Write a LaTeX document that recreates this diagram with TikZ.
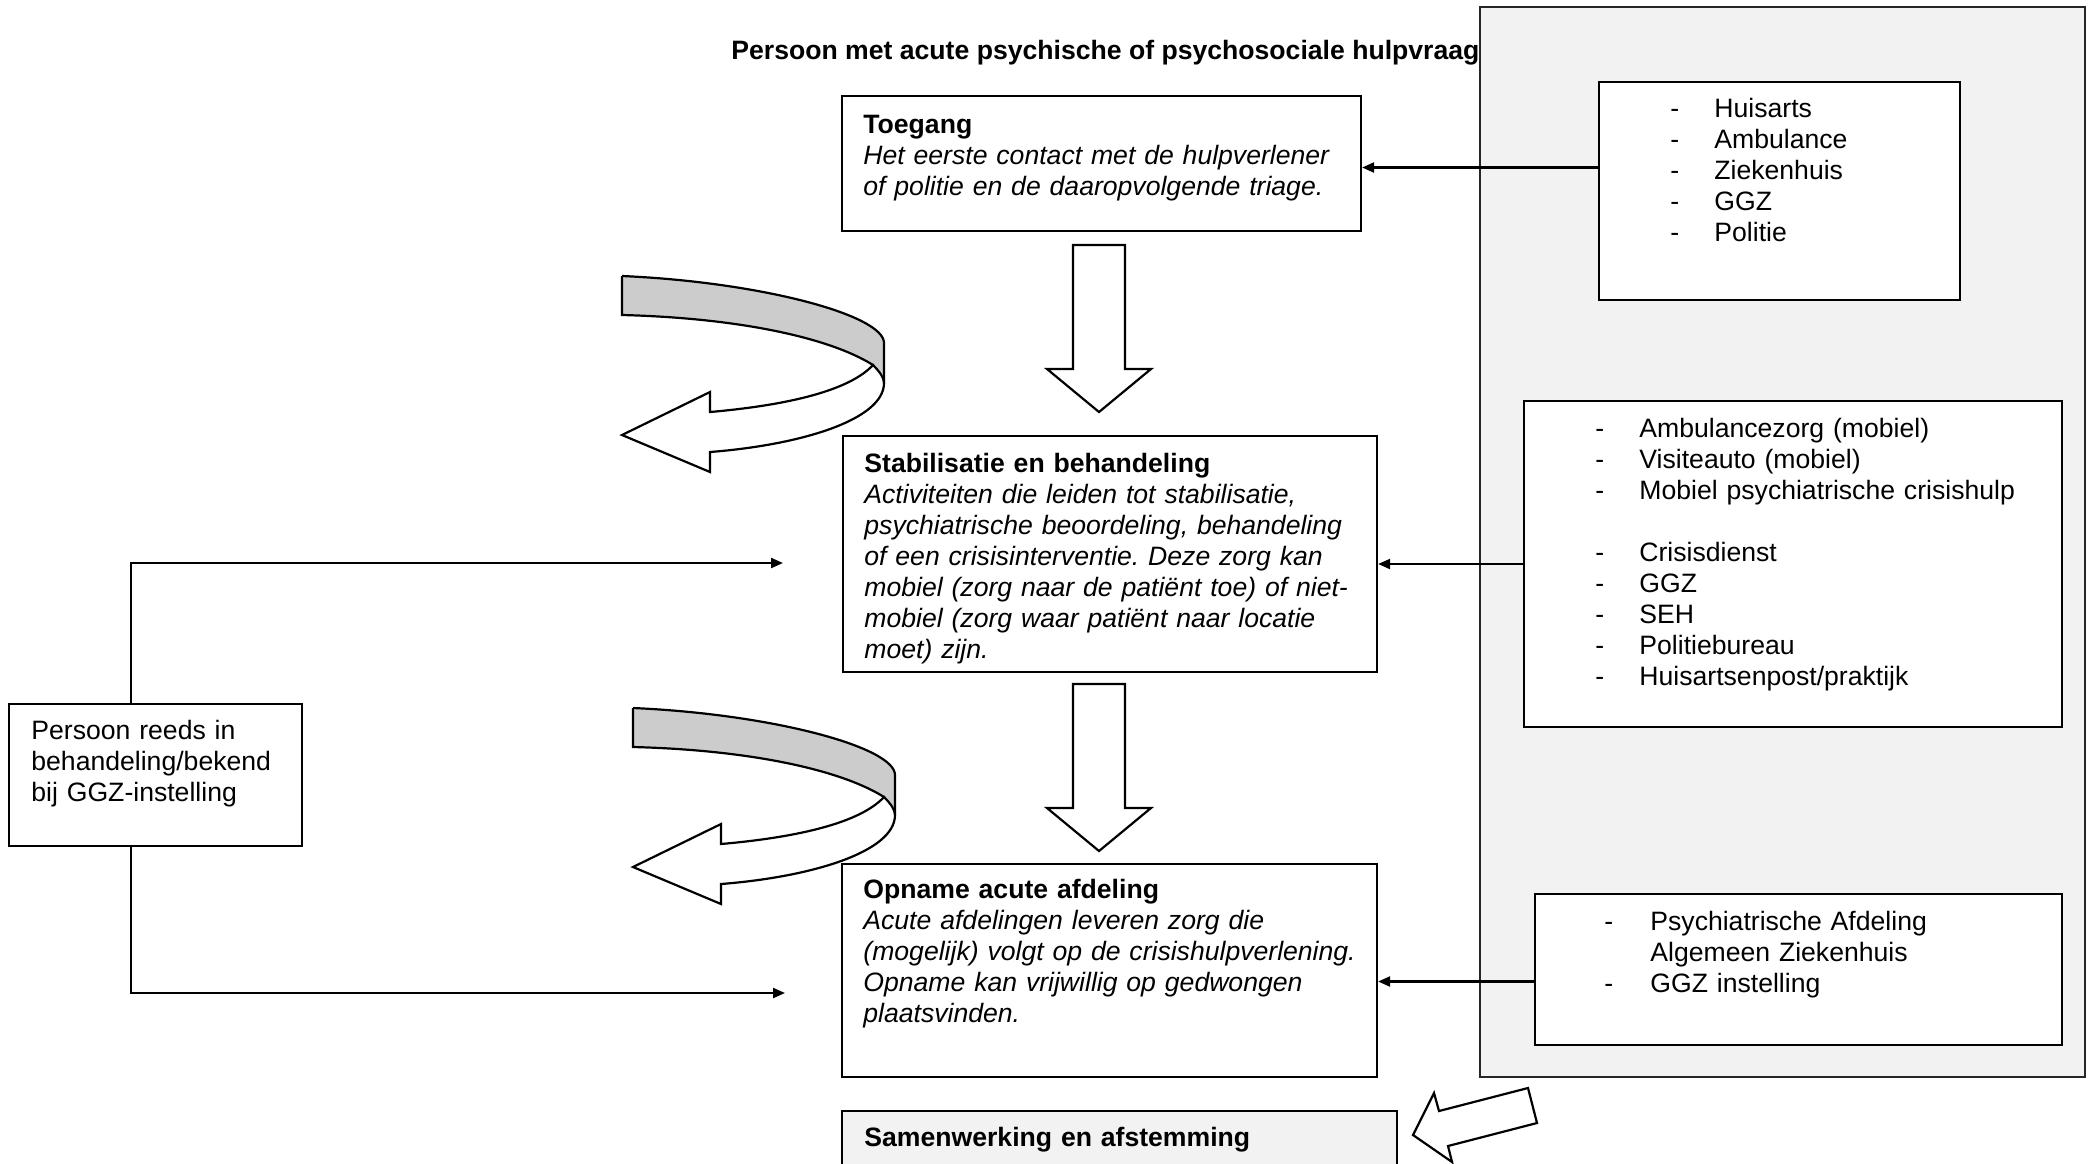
\documentclass[tikz,border=0pt]{standalone}
\usepackage{fontspec}
\setmainfont{Liberation Sans}
\usetikzlibrary{arrows.meta,fit}
\definecolor{panelgrey}{HTML}{F2F2F2}
\definecolor{bandgrey}{HTML}{CCCCCC}
\frenchspacing
\newcommand\dfont{\fontsize{13.3pt}{15.5pt}\selectfont}
\newcommand\dsh{\makebox[22pt][l]{-}}
\newcommand\curvarrow{%
  \path[fill=bandgrey] (622,276) .. controls (760,282) and (884,315) .. (884,343)
     -- (884,383) .. controls (884,378) and (880,372) .. (873,365)
     .. controls (830,338) and (740,318) .. (622,315) -- cycle;
  \path[shapeline, fill=white] (884,383) .. controls (884,420) and (800,445) .. (710,452)
     -- (710,472) -- (622,435) -- (710,392) -- (710,412)
     .. controls (790,405) and (850,390) .. (873,365)
     .. controls (880,372) and (884,378) .. (884,383) -- cycle;
  \draw[shapeline] (622,276) .. controls (760,282) and (884,315) .. (884,343) -- (884,383);
  \draw[shapeline] (873,365) .. controls (830,338) and (740,318) .. (622,315) -- (622,276);
}
\begin{document}
\begin{tikzpicture}[x=0.5pt,y=-0.5pt,
  box/.style={draw, line width=1.1pt, fill=white, inner sep=0pt},
  panelbox/.style={draw=black!85, line width=1.1pt, fill=panelgrey, inner sep=0pt},
  txt/.style={anchor=base west, inner sep=0pt, text width=300pt, align=left, font=\dfont},
  conn/.style={line width=1.1pt, -{Triangle[length=6pt,width=5pt]}},
  shapeline/.style={draw, line width=1.1pt, line join=miter},
  blockarrow/.style={draw, fill=white, line width=1.1pt, line join=miter}]
\useasboundingbox (0,0) rectangle (2098,1163);
\clip (0,0) rectangle (2098,1163);

% title
\node[anchor=base west, inner sep=0pt, font=\dfont\bfseries] (title) at (731,59)
  {Persoon met acute psychische of psychosociale hulpvraag};

% right panel and its boxes
\node[panelbox, fit={(1480,7) (2085,1077)}] (panel) {};
\node[box, fit={(1599,82) (1960,300)}] (box1) {};
\node[box, fit={(1524,401) (2062,727)}] (box2) {};
\node[box, fit={(1535,894) (2062,1045)}] (box3) {};

% main boxes
\node[box, fit={(842,96) (1361,231)}] (toegang) {};
\node[box, fit={(843,436) (1377,672)}] (stab) {};
\node[box, fit={(842,864) (1377,1077)}] (opname) {};
\node[box, fill=panelgrey, fit={(842,1111) (1397,1200)}] (samen) {};
\node[box, fit={(9,704) (302,846)}] (left) {};

% texts
\node[txt] (toegangtxt) at (863,133) {\textbf{Toegang}\\
  \itshape Het eerste contact met de hulpverlener\\
  of politie en de daaropvolgende triage.};
\node[txt] (stabtxt) at (864,472) {\textbf{Stabilisatie en behandeling}\\
  \itshape Activiteiten die leiden tot stabilisatie,\\
  psychiatrische beoordeling, behandeling\\
  of een crisisinterventie. Deze zorg kan\\
  mobiel (zorg naar de patiënt toe) of niet-\\
  mobiel (zorg waar patiënt naar locatie\\
  moet) zijn.};
\node[txt] (opnametxt) at (863,898) {\textbf{Opname acute afdeling}\\
  \itshape Acute afdelingen leveren zorg die\\
  (mogelijk) volgt op de crisishulpverlening.\\
  Opname kan vrijwillig op gedwongen\\
  plaatsvinden.};
\node[txt] (samentxt) at (864,1146) {\textbf{Samenwerking en afstemming}};
\node[txt, text width=140pt] (lefttxt) at (31,739) {Persoon reeds in\\
  behandeling/bekend\\ bij GGZ-instelling};
\node[txt, text width=160pt] (box1txt) at (1670,117) {\dsh Huisarts\\
  \dsh Ambulance\\ \dsh Ziekenhuis\\ \dsh GGZ\\ \dsh Politie};
\node[txt, text width=250pt] (box2txt) at (1595,437) {\dsh Ambulancezorg (mobiel)\\
  \dsh Visiteauto (mobiel)\\ \dsh Mobiel psychiatrische crisishulp\\ \mbox{}\\
  \dsh Crisisdienst\\ \dsh GGZ\\ \dsh SEH\\ \dsh Politiebureau\\
  \dsh Huisartsenpost/praktijk};
\node[txt, text width=200pt] (box3txt) at (1604,930) {\makebox[23pt][l]{-}Psychiatrische Afdeling\\
  \makebox[23pt][l]{}Algemeen Ziekenhuis\\ \makebox[23pt][l]{-}GGZ instelling};

% connectors
\draw[conn] ([yshift=-2pt]box1.west |- toegang.east) -- ([yshift=-2pt]toegang.east);
\draw[conn] (box2.west) -- (box2.west -| stab.east);
\draw[conn] ([yshift=-6pt]box3.west) -- ([yshift=-6pt]box3.west -| opname.east);
\coordinate (t1) at (131,563);
\coordinate (e1) at (783,563);
\draw[conn] (left.north -| t1) -- (t1) -- (e1);
\coordinate (b1) at (131,993);
\coordinate (e2) at (785,993);
\draw[conn] (left.south -| b1) -- (b1) -- (e2);

% down block arrows
\path[blockarrow] (1073,245) -- (1125,245) -- (1125,369) -- (1151,369) -- (1099,412)
  -- (1047,369) -- (1073,369) -- cycle;
\path[blockarrow] (1073,684) -- (1125,684) -- (1125,808) -- (1151,808) -- (1099,851)
  -- (1047,808) -- (1073,808) -- cycle;

% curved arrows
\begin{scope}\curvarrow\end{scope}
\begin{scope}[shift={(11,432)}]\curvarrow\end{scope}

% arrow to Samenwerking
\path[blockarrow] (1528,1088) -- (1537,1123) -- (1448,1146) -- (1452,1162) -- (1413,1135)
  -- (1434,1093) -- (1439,1111) -- cycle;
\end{tikzpicture}
\end{document}
